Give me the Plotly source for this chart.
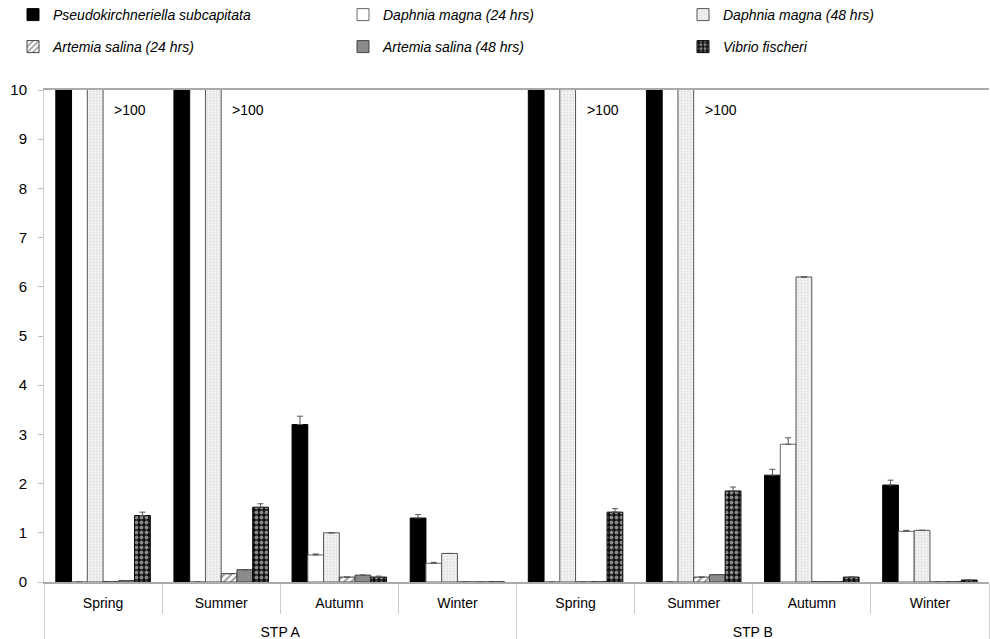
import plotly.graph_objects as go

# ---------------- data ----------------
plants = ["STP A"] * 4 + ["STP B"] * 4
seasons = ["Spring", "Summer", "Autumn", "Winter"] * 2

series_names = [
    "Pseudokirchneriella subcapitata",
    "Daphnia magna (24 hrs)",
    "Daphnia magna (48 hrs)",
    "Artemia salina (24 hrs)",
    "Artemia salina (48 hrs)",
    "Vibrio fischeri",
]

# values > 100 are stored as 100 (shown clipped at the axis top with ">100")
p_subcapitata = [100, 100, 3.2, 1.3, 100, 100, 2.17, 1.97]
d_magna_24 = [0, 0, 0.55, 0.38, 0, 0, 2.8, 1.03]
d_magna_48 = [100, 100, 1.0, 0.58, 100, 100, 6.2, 1.05]
a_salina_24 = [0.01, 0.17, 0.1, 0, 0, 0.1, 0.01, 0]
a_salina_48 = [0.03, 0.25, 0.14, 0, 0.01, 0.15, 0.01, 0.01]
v_fischeri = [1.35, 1.52, 0.1, 0, 1.42, 1.85, 0.1, 0.04]

# upper error bars (None = no bar)
err_p = [None, None, 0.17, 0.07, None, None, 0.12, 0.1]
err_d24 = [None, None, 0.02, 0.02, None, None, 0.13, 0.02]
err_d48 = [None] * 8
err_a24 = [None] * 8
err_a48 = [None] * 8
err_v = [0.07, 0.07, 0.02, None, 0.07, 0.08, None, None]

over_label = ">100"
over_flags = [v >= 100 for v in d_magna_48]

y_ticks = list(range(0, 11))

# ---------------- styles ----------------
edge = "#444444"
styles = [
    dict(color="black", line=dict(color="black", width=1)),
    dict(color="white", line=dict(color="#666666", width=1)),
    dict(color="white", line=dict(color="#555555", width=1),
         pattern=dict(shape=".", fgcolor="#c4c4c4", bgcolor="#f4f4f4", size=3, solidity=0.35)),
    dict(color="white", line=dict(color=edge, width=1),
         pattern=dict(shape="/", fgcolor="#333333", bgcolor="white", size=5, solidity=0.4)),
    dict(color="#8a8a8a", line=dict(color=edge, width=1)),
    dict(color="black", line=dict(color="black", width=1),
         pattern=dict(shape=".", fgcolor="white", bgcolor="#111111", size=5, solidity=0.45)),
]

values = [p_subcapitata, d_magna_24, d_magna_48, a_salina_24, a_salina_48, v_fischeri]
errors = [err_p, err_d24, err_d48, err_a24, err_a48, err_v]

# inner labels get an empty second line so the outer (STP) row sits lower
season_labels = [s + "<br>&nbsp;" for s in seasons]
x = [plants, season_labels]

legend_ids = ["legend", "legend2", "legend3", "legend4", "legend5", "legend6"]
# legend slot positions (container fractions): 3 columns x 2 rows
legend_cols = [13 / 990, 343 / 990, 683 / 990]
legend_rows = [1 - 15 / 639, 1 - 47 / 639]

fig = go.Figure()
for i, (name, vals, errs, st) in enumerate(zip(series_names, values, errors, styles)):
    fig.add_trace(go.Bar(
        x=x, y=vals, name=name,
        marker=st,
        legend=legend_ids[i],
        error_y=dict(type="data", symmetric=False, array=errs,
                     arrayminus=[0] * len(errs), color="#555555",
                     thickness=1, width=3),
    ))

# ">100" labels
for idx, flag in enumerate(over_flags):
    if flag:
        fig.add_annotation(x=idx + 0.23, y=9.6, xref="x", yref="y",
                           text=over_label, showarrow=False,
                           font=dict(size=14, color="black"))

font_family = "Liberation Sans, Arial, sans-serif"
legend_layouts = {}
for i, lid in enumerate(legend_ids):
    legend_layouts[lid] = dict(
        xref="container", yref="container",
        x=legend_cols[i % 3], y=legend_rows[i // 3],
        xanchor="left", yanchor="middle",
        font=dict(family=font_family, size=14, color="black", style="italic"),
        bgcolor="rgba(0,0,0,0)",
    )

fig.update_layout(
    width=990, height=639,
    margin=dict(l=44, r=1, t=90, b=57, autoexpand=False),
    paper_bgcolor="white", plot_bgcolor="white",
    barmode="group", bargap=0.2, bargroupgap=0,
    font=dict(family=font_family, size=14, color="black"),
    showlegend=True,
    **legend_layouts,
)

fig.update_yaxes(range=[0, 10], tickvals=y_ticks, ticks="outside", ticklen=5,
                 tickcolor="#bbbbbb", showline=True, linecolor="#cccccc", linewidth=1,
                 showgrid=False, zeroline=False, tickfont=dict(size=15),
                 ticklabelstandoff=8)
fig.update_xaxes(type="multicategory", showline=True, linecolor="#aaaaaa", linewidth=1.5,
                 mirror=True, ticks="outside", tickson="boundaries", ticklen=30,
                 tickcolor="#cccccc", showdividers=True, dividercolor="#cccccc",
                 dividerwidth=1, showgrid=False, tickfont=dict(size=14),
                 ticklabelstandoff=7)

fig.write_html("out.html")
